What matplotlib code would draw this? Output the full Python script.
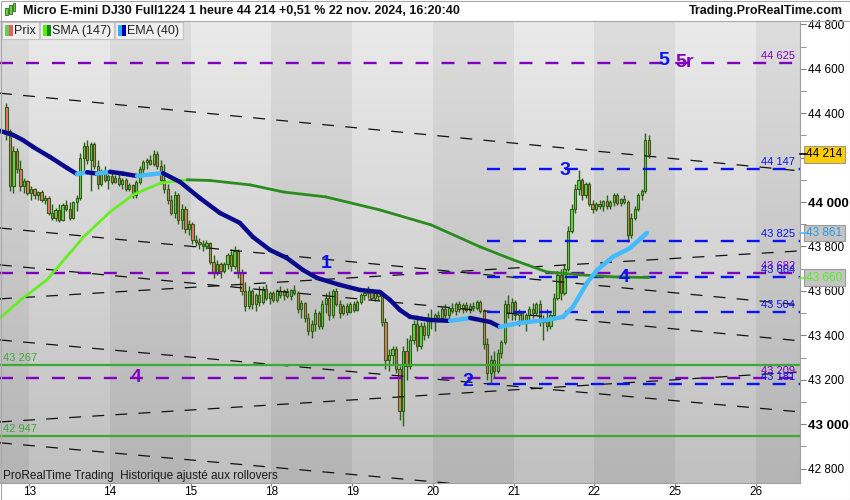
import numpy as np
import matplotlib
matplotlib.use("Agg")
import matplotlib.pyplot as plt
import matplotlib.transforms as mtransforms
from matplotlib.collections import LineCollection
from matplotlib.patches import Rectangle

plt.rcParams['font.family'] = ['Liberation Sans', 'DejaVu Sans']

# hourly candles, bar index 0 = first bar of the 13th
first_bar = -7
opens = [44430, 44320, 44070, 44230, 44150, 44070, 44095, 44040, 44060, 44030,
         44045, 44010, 44020, 43950, 43930, 43965, 43920, 43985, 43970, 43930,
         44000, 44020, 44200, 44250, 44190, 44260, 44160, 44080, 44140, 44100,
         44115, 44090, 44110, 44080, 44100, 44060, 44075, 44030, 44090, 44150,
         44180, 44190, 44170, 44215, 44160, 44100, 44060, 44010, 43950, 44030,
         43920, 43970, 43880, 43900, 43830, 43820, 43810, 43800, 43815, 43730,
         43680, 43720, 43690, 43720, 43760, 43710, 43780, 43680, 43600, 43530,
         43600, 43540, 43580, 43550, 43610, 43570, 43590, 43560, 43600, 43580,
         43600, 43575, 43605, 43590, 43520, 43545, 43480, 43420, 43450, 43500,
         43440, 43540, 43570, 43490, 43600, 43540, 43500, 43530, 43505, 43540,
         43515, 43550, 43580, 43590, 43600, 43570, 43590, 43575, 43460, 43290,
         43310, 43340, 43250, 43060, 43330, 43260, 43380, 43450, 43350, 43440,
         43400, 43480, 43470, 43490, 43480, 43520, 43490, 43525, 43510, 43540,
         43520, 43535, 43515, 43530, 43525, 43550, 43510, 43360, 43230, 43290,
         43240, 43320, 43370, 43540, 43500, 43550, 43490, 43500, 43470, 43490,
         43520, 43500, 43540, 43460, 43480, 43440, 43490, 43570, 43670, 43590,
         43700, 43870, 43970, 44060, 44100, 44030, 44080, 43990, 43970, 43990,
         43980, 44005, 43980, 44000, 44030, 43995, 44015, 44000, 43850, 43930,
         43970, 44030, 44050, 44280]
closes = [44320, 44070, 44230, 44150, 44070, 44095, 44040, 44060, 44030, 44045,
          44010, 44020, 43950, 43930, 43965, 43920, 43985, 43970, 43930, 44000,
          44020, 44200, 44250, 44190, 44260, 44160, 44080, 44140, 44100, 44115,
          44090, 44110, 44080, 44100, 44060, 44075, 44030, 44090, 44150, 44180,
          44190, 44170, 44215, 44160, 44100, 44060, 44010, 43950, 44030, 43920,
          43970, 43880, 43900, 43830, 43820, 43810, 43800, 43815, 43730, 43680,
          43720, 43690, 43720, 43760, 43710, 43780, 43680, 43600, 43530, 43600,
          43540, 43580, 43550, 43610, 43570, 43590, 43560, 43600, 43580, 43600,
          43575, 43605, 43590, 43520, 43545, 43480, 43420, 43450, 43500, 43440,
          43540, 43570, 43490, 43600, 43540, 43500, 43530, 43505, 43540, 43515,
          43550, 43580, 43590, 43600, 43570, 43590, 43575, 43460, 43290, 43310,
          43340, 43250, 43060, 43330, 43260, 43380, 43450, 43350, 43440, 43400,
          43480, 43470, 43490, 43480, 43520, 43490, 43525, 43510, 43540, 43520,
          43535, 43515, 43530, 43525, 43550, 43510, 43360, 43230, 43290, 43240,
          43320, 43370, 43540, 43500, 43550, 43490, 43500, 43470, 43490, 43520,
          43500, 43540, 43460, 43480, 43440, 43490, 43570, 43670, 43590, 43700,
          43870, 43970, 44060, 44100, 44030, 44080, 43990, 43970, 43990, 43980,
          44005, 43980, 44000, 44030, 43995, 44015, 44000, 43850, 43930, 43970,
          44030, 44050, 44280, 44214]
highs = [44445, 44330, 44250, 44245, 44190, 44110, 44100, 44070, 44065, 44050,
         44055, 44030, 44025, 43990, 43975, 43990, 43995, 44010, 44000, 44005,
         44030, 44220, 44270, 44280, 44270, 44270, 44190, 44150, 44160, 44125,
         44130, 44120, 44125, 44110, 44110, 44085, 44080, 44100, 44160, 44190,
         44200, 44210, 44235, 44230, 44190, 44170, 44080, 44030, 44050, 44040,
         43990, 43980, 43920, 43910, 43850, 43840, 43830, 43830, 43820, 43760,
         43740, 43730, 43730, 43770, 43790, 43800, 43790, 43700, 43640, 43620,
         43610, 43590, 43620, 43620, 43630, 43600, 43600, 43610, 43620, 43610,
         43615, 43610, 43625, 43600, 43560, 43550, 43500, 43470, 43520, 43510,
         43560, 43590, 43600, 43610, 43615, 43560, 43540, 43545, 43550, 43555,
         43560, 43590, 43600, 43620, 43610, 43600, 43605, 43590, 43480, 43340,
         43350, 43350, 43260, 43350, 43390, 43400, 43470, 43490, 43460, 43460,
         43500, 43520, 43500, 43510, 43530, 43540, 43530, 43545, 43550, 43555,
         43545, 43550, 43545, 43550, 43560, 43560, 43520, 43390, 43310, 43330,
         43340, 43380, 43560, 43580, 43570, 43560, 43520, 43510, 43500, 43530,
         43545, 43550, 43560, 43490, 43520, 43500, 43590, 43690, 43700, 43720,
         43890, 43990, 44080, 44145, 44110, 44090, 44090, 44010, 44000, 44010,
         44010, 44030, 44010, 44040, 44040, 44020, 44030, 44010, 43950, 43980,
         44040, 44060, 44310, 44300]
lows = [44280, 44050, 44040, 44130, 44050, 44040, 44030, 44010, 44015, 44010,
        44000, 43990, 43940, 43920, 43915, 43910, 43915, 43960, 43920, 43925,
        43960, 44010, 44130, 44170, 44050, 44150, 44060, 44070, 44090, 44060,
        44080, 44085, 44070, 44060, 44050, 44050, 44020, 44020, 44080, 44130,
        44150, 44165, 44160, 44150, 44080, 44040, 43990, 43940, 43930, 43900,
        43880, 43860, 43850, 43810, 43800, 43790, 43780, 43790, 43720, 43660,
        43670, 43660, 43680, 43700, 43690, 43700, 43660, 43580, 43510, 43520,
        43520, 43510, 43530, 43540, 43560, 43540, 43550, 43550, 43570, 43560,
        43570, 43560, 43580, 43500, 43480, 43460, 43400, 43390, 43420, 43430,
        43430, 43500, 43470, 43480, 43530, 43480, 43490, 43490, 43500, 43505,
        43510, 43540, 43560, 43570, 43560, 43555, 43560, 43440, 43250, 43240,
        43270, 43230, 43020, 42990, 43200, 43250, 43360, 43330, 43340, 43380,
        43390, 43430, 43420, 43460, 43470, 43480, 43480, 43500, 43490, 43505,
        43500, 43505, 43500, 43510, 43515, 43500, 43340, 43200, 43180, 43210,
        43230, 43300, 43360, 43480, 43470, 43470, 43440, 43450, 43420, 43460,
        43480, 43490, 43440, 43380, 43420, 43430, 43470, 43560, 43560, 43580,
        43690, 43860, 43950, 44030, 44010, 44020, 43980, 43950, 43960, 43970,
        43960, 43970, 43970, 43980, 43985, 43980, 43990, 43820, 43840, 43920,
        43960, 44010, 44040, 44200]

day_labels = ['13', '14', '15', '18', '19', '20', '21', '22', '25', '26']
bars_per_day = 23

# moving averages (bar position, value)
sma_bars = [-8.8, -3, 4.5, 15, 22.5, 29, 37, 44.5, 51, 62.5, 72, 84, 99.5, 114,
            128, 137.5, 147, 156.5, 166, 176]
sma_vals = [43478, 43559, 43649, 43843, 43955, 44032, 44086, 44100, 44097, 44077,
            44045, 44023, 43964, 43897, 43798, 43739, 43685, 43672, 43663, 43660]
ema_bars = [-8.8, -5.1, -2.3, 0.6, 5.4, 10.3, 13.1, 16.0, 18.8, 22.5, 26.2, 30.2,
            33.9, 37.6, 42.5, 48.1, 53.8, 59.5, 63.2, 68.1, 72.9, 77.5, 81.5, 88.0,
            93.7, 99.4, 102.3, 105.1, 108.0, 113.7, 119.4, 125.1, 130.8, 133.6,
            139.3, 147.0, 151.6, 154.4, 158.4, 161.3, 165.8, 170.7, 175.5]
ema_vals = [44320, 44302, 44279, 44248, 44203, 44153, 44126, 44134, 44128, 44136,
            44128, 44117, 44124, 44130, 44090, 44018, 43951, 43906, 43843, 43784,
            43748, 43694, 43658, 43627, 43604, 43595, 43559, 43514, 43483, 43469,
            43465, 43478, 43460, 43438, 43456, 43469, 43483, 43528, 43636, 43694,
            43753, 43793, 43861]

purple_levels = [44625, 43682, 43209]
blue_levels = [44147, 43825, 43664, 43504, 43181]
blue_from_bar = 130
green_levels = [43267, 42947]

# trend lines: price at left edge, price at right edge
trend_left = [44490, 43883, 43717, 43379, 42916, 43010, 43564]
trend_right = [44140, 43537, 43375, 43055, 42592, 43235, 43780]

wave_text = ['1', '2', '3', '4', '4', '5', '5r']
wave_bars = [84, 124.5, 152, 169, 30, 180.3, 186.3]
wave_prices = [43725, 43194, 44144, 43662, 43212, 44639, 44630]
wave_is_purple = [False, False, False, False, True, False, True]

last_price = 44214
ema_last = 43861
sma_last = 43660

XMIN, XMAX = -8.83, 219.1
YMIN, YMAX = 42735, 44815
PURPLE = '#8000c0'
BLUE = '#0a14f0'
GREEN = '#3aaa35'
OUTLINE = '#2d5f16'


def fmt(v):
    return f"{v:,}".replace(",", " ")


fig = plt.figure(figsize=(8.5, 5), dpi=100)
fig.patch.set_facecolor('white')
ax = fig.add_axes([0, 17 / 500, 800 / 850, 462 / 500])


def px_rect(x, y, w, h, **kw):
    # rectangle in figure pixels, y measured from the top
    r = Rectangle((x / 850, 1 - (y + h) / 500), w / 850, h / 500,
                  transform=fig.transFigure, **kw)
    fig.add_artist(r)


# day bands with a vertical gradient
day_ticks = [bars_per_day * d - 0.5 for d in range(len(day_labels))]
edges = [XMIN] + day_ticks + [XMAX]
t = np.linspace(0, 1, 200)[:, None]
for k in range(len(edges) - 1):
    if k % 2 == 0:
        top, bot = np.array([221, 221, 221]), np.array([180, 180, 180])
    else:
        top, bot = np.array([234, 234, 234]), np.array([192, 192, 192])
    g = ((top * (1 - t) + bot * t) / 255)[:, None, :]
    ax.imshow(g, extent=(edges[k], edges[k + 1], YMIN, YMAX), aspect='auto',
              zorder=0, interpolation='bilinear')

# candles
x = np.arange(first_bar, first_bar + len(closes))
o = np.array(opens)
c = np.array(closes)
fills = ['#6ad24a' if cc >= oo else '#e8766a' for oo, cc in zip(o, c)]
ax.vlines(x, lows, highs, colors=OUTLINE, lw=1.0, zorder=2)
ax.bar(x, c - o, bottom=o, width=0.62, color=fills, edgecolor=OUTLINE,
       linewidth=0.8, zorder=2.2)

# trend lines
for yl, yr in zip(trend_left, trend_right):
    ax.plot([XMIN, XMAX], [yl, yr], color='#111111', lw=0.9,
            dashes=(9.5, 9), zorder=3)

# horizontal levels
for lv in purple_levels:
    ax.plot([XMIN, XMAX], [lv, lv], color=PURPLE, lw=1.7, dashes=(5.5, 5.5), zorder=3.2)
for lv in blue_levels:
    ax.plot([blue_from_bar, XMAX], [lv, lv], color=BLUE, lw=1.7, dashes=(5.5, 5.5), zorder=3.2)
for lv in green_levels:
    ax.axhline(lv, color=GREEN, lw=1.6, zorder=3.1)


def trend_colored(xs, ys, up_col, down_col, lw, z):
    pts = np.column_stack([xs, ys])
    segs = np.stack([pts[:-1], pts[1:]], axis=1)
    cols = [up_col if ys[i + 1] >= ys[i] else down_col for i in range(len(ys) - 1)]
    lc = LineCollection(segs, colors=cols, linewidths=lw, zorder=z, capstyle='round')
    ax.add_collection(lc)


trend_colored(sma_bars, sma_vals, '#66ee22', '#2a8c1e', 2.0, 4)
trend_colored(ema_bars, ema_vals, '#44bbff', '#0a0a8c', 3.2, 4.2)

# level labels at the right edge
lab_x = (795 - 31) / 3.51
for lv in purple_levels:
    ax.annotate(fmt(lv), (lab_x, lv), xytext=(0, 1.5), textcoords='offset points',
                ha='right', va='bottom', color=PURPLE, fontsize=8, zorder=6)
for lv in blue_levels:
    ax.annotate(fmt(lv), (lab_x, lv), xytext=(0, 1.5), textcoords='offset points',
                ha='right', va='bottom', color=BLUE, fontsize=8, zorder=6)
for lv in green_levels:
    ax.annotate(fmt(lv), (XMIN, lv), xytext=(2, 1.5), textcoords='offset points',
                ha='left', va='bottom', color=GREEN, fontsize=8, zorder=6)

# wave count labels
for s, bx, py, purp in zip(wave_text, wave_bars, wave_prices, wave_is_purple):
    ax.text(bx, py, s, color=PURPLE if purp else BLUE, fontsize=14,
            fontweight='bold', ha='center', va='center', zorder=6)

ax.set_xlim(XMIN, XMAX)
ax.set_ylim(YMIN, YMAX)

# axes styling
for side in ['top', 'left']:
    ax.spines[side].set_visible(False)
ax.spines['right'].set_color('#a0a0a0')
ax.spines['bottom'].set_color('#a0a0a0')
ax.yaxis.tick_right()
yt = list(range(42800, 44801, 200))
# the 44 200 label sits under the last-price box on the original scale
ax.set_yticks(yt, ['' if v == 44200 else fmt(v) for v in yt])
ax.set_yticks(list(range(42800, 44801, 100)), minor=True)
ax.tick_params(axis='y', which='both', direction='out', length=4, color='#808080',
               labelsize=8.5, pad=2)
for lbl, v in zip(ax.get_yticklabels(), yt):
    if v in (43000, 44000):
        lbl.set_fontweight('bold')
        lbl.set_fontsize(9.5)
ax.set_xticks(day_ticks, day_labels)
ax.tick_params(axis='x', direction='out', length=2, color='#808080',
               labelsize=8.5, pad=0.5)

# value boxes on the price scale
btr = mtransforms.blended_transform_factory(ax.transAxes, ax.transData)
box_specs = [(last_price, '#ffcc00', 'black', 'black'),
             (ema_last, '#c4c4c4', '#2a9ae0', '#44bbff'),
             (sma_last, '#c4c4c4', '#55ee22', '#66ee22')]
for val, fc, tc, tick in box_specs:
    ax.text(1.008, val, fmt(val), transform=btr, ha='left', va='center', fontsize=8.5,
            color=tc, zorder=7, clip_on=False,
            bbox=dict(boxstyle='square,pad=0.2', fc=fc, ec='#9a9a9a', lw=0.8))
    ax.plot([1.0, 1.007], [val, val], transform=btr, color=tick, lw=1.2,
            clip_on=False, zorder=7)

# header
px_rect(0, 0, 850, 20, fc='white', ec='none')
fig.add_artist(plt.Line2D([0, 1], [1 - 20.5 / 500] * 2, transform=fig.transFigure,
                          color='#a8a8a8', lw=0.8))
for hx, hy, hh in [(5, 8, 7), (9, 5, 9), (13, 3, 8)]:
    px_rect(hx, hy, 2.5, hh, fc='#66cc44', ec='#2d6a16', lw=0.6)
fig.text(23 / 850, 1 - 11 / 500, 'Micro E-mini DJ30 Full1224 1 heure 44 214 +0,51 % 22 nov. 2024, 16:20:40',
         fontsize=9, fontweight='bold', va='center', ha='left', color='#111111')
fig.text(843 / 850, 1 - 11 / 500, 'Trading.ProRealTime.com', fontsize=9,
         fontweight='bold', va='center', ha='right', color='#111111')

# indicator legend strip
legend_items = [('Prix', '#66cc55', '#e06060', 2, 37),
                ('SMA (147)', '#55ee11', '#118811', 40, 74),
                ('EMA (40)', '#33aaff', '#0000aa', 115, 68)]
for name, c1, c2, lx, lw_ in legend_items:
    px_rect(lx, 22, lw_, 17, fc='#efefef', ec='#c4c4c4', lw=0.8)
    px_rect(lx + 3, 25, 4, 11, fc=c1, ec='none')
    px_rect(lx + 7, 25, 4, 11, fc=c2, ec='none')
    fig.text((lx + 12) / 850, 1 - 31 / 500, name, fontsize=9, va='center',
             ha='left', color='#222222')

fig.text(3 / 850, 1 - 476 / 500, 'ProRealTime Trading  Historique ajusté aux rollovers',
         fontsize=8.5, va='center', ha='left', color='#1a1a1a')

px_rect(0.5, 0.5, 849, 499, fc='none', ec='#a8a8a8', lw=0.8)

fig.savefig('out.png', dpi=100)
